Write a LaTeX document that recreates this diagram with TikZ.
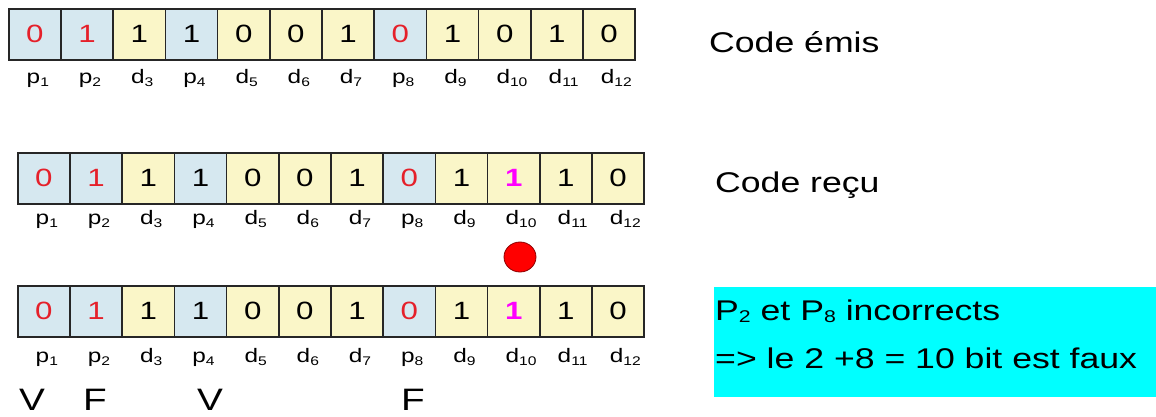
\documentclass[tikz,border=0pt]{standalone}
\usepackage{fontspec}
\setmainfont{Liberation Sans}
\newfontfamily\af[FakeStretch=1.25]{Liberation Sans}
\usetikzlibrary{shapes.geometric}
\definecolor{pblue}{HTML}{D6E8F0}
\definecolor{dyel}{HTML}{FAF6C8}
\definecolor{bitred}{HTML}{E5202A}
\definecolor{bitmag}{HTML}{FF00FF}
\definecolor{boxcyan}{HTML}{00FFFF}
\definecolor{dotred}{HTML}{FF0000}
\newcommand\sbs[2]{\raisebox{#2}{\fontsize{#1}{#1}\selectfont\af #1}}
\newcommand\lsub[1]{\raisebox{-3.5pt}{\fontsize{12.5}{12}\selectfont #1}}
\newcommand\bsub[1]{\raisebox{-2pt}{\fontsize{17}{17}\selectfont #1}}
\begin{document}
\begin{tikzpicture}[x=1pt,y=-1pt,
  cell/.style={draw=black!85, line width=1.6pt, minimum width=52.2pt, minimum height=51pt,
    inner sep=0pt, anchor=north west, font=\af\fontsize{25}{25}\selectfont},
  pcell/.style={cell, fill=pblue},
  dcell/.style={cell, fill=dyel},
  lab/.style={anchor=base west, inner sep=0pt, font=\af\fontsize{19.5}{20}\selectfont},
  big/.style={anchor=base west, inner sep=0pt, font=\af\fontsize{28.5}{30}\selectfont},
  vf/.style={anchor=base, inner sep=0pt, font=\af\fontsize{31}{32}\selectfont}]
\useasboundingbox (0,0) rectangle (1156,416);

% row definitions: x0, top, label baseline
\foreach \r/\xo/\yt/\yl in {1/8/8/83, 2/17/152/224, 3/17/285/362}{
  \foreach \i/\t/\b/\c/\n in {1/p/0/bitred/1, 2/p/1/bitred/2, 3/d/1/black/3, 4/p/1/black/4,
      5/d/0/black/5, 6/d/0/black/6, 7/d/1/black/7, 8/p/0/bitred/8,
      9/d/1/black/9, 10/d/0/black/10, 11/d/1/black/11, 12/d/0/black/12}{
    \pgfmathsetmacro\xx{\xo+(\i-1)*52.2}
    \ifnum\r>1 \ifnum\i=10
      \node[dcell, text=bitmag, font=\af\bfseries\fontsize{25}{25}\selectfont] (r\r c\i) at (\xx,\yt) {1};
    \else
      \node[\t cell, text=\c] (r\r c\i) at (\xx,\yt) {\b};
    \fi\else
      \node[\t cell, text=\c] (r\r c\i) at (\xx,\yt) {\b};
    \fi
    \node[lab] (l\r c\i) at (\xx+18.5,\yl) {\t\lsub{\n}};
  }
}

% error marker
\node[ellipse, draw=red!55!black, line width=0.8pt, fill=dotred, minimum width=32pt,
  minimum height=30pt, inner sep=0pt] (err) at (520,257) {};

% V / F
\node[vf] (v1) at (32,410) {V};
\node[vf] (f2) at (95,410) {F};
\node[vf] (v4) at (210,410) {V};
\node[vf] (f8) at (413,410) {F};

% right texts
\node[big] (emis) at (709,52) {Code émis};
\node[big] (recu) at (715,192) {Code reçu};
\node[fill=boxcyan, anchor=north west, minimum width=442pt, minimum height=110pt,
  inner sep=0pt] (res) at (714,287) {};
\node[big] (res1) at (715,320) {P\bsub{2} et P\bsub{8} incorrects};
\node[big] (res2) at (715,368) {=> le 2 +8 = 10 bit est faux};
\end{tikzpicture}
\end{document}
